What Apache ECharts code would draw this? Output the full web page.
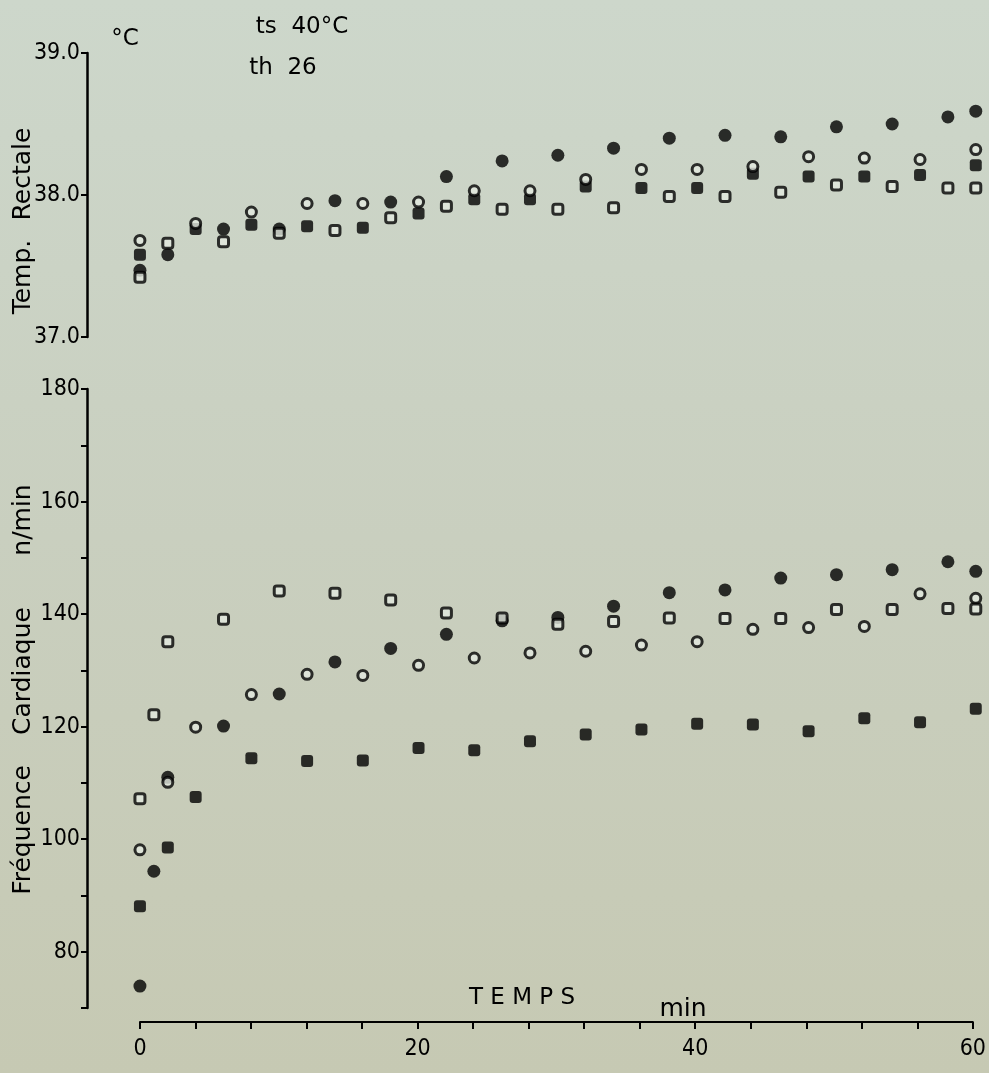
<!DOCTYPE html>
<html>
<head>
<meta charset="utf-8">
<script src="https://cdn.jsdelivr.net/npm/echarts@6.0.0/dist/echarts.min.js"></script>
<style>
	html, body { margin: 0; padding: 0; }
	#chart { width: 989px; height: 1073px; }
</style>
</head>
<body>
<div id="chart"></div>
<script>
// temps (min)
var tempsA = [0, 2, 6, 10, 14, 18, 22, 26, 30, 34, 38, 42, 46, 50, 54, 58, 60];
var tempsB = [0, 4, 8, 12, 16, 20, 24, 28, 32, 36, 40, 44, 48, 52, 56, 60];
var freqTempsA = [0, 1, 2, 6, 10, 14, 18, 22, 26, 30, 34, 38, 42, 46, 50, 54, 58, 60];
var freqTempsB = [0, 2, 4, 8, 12, 16, 20, 24, 28, 32, 36, 40, 44, 48, 52, 56, 60];

// Temp. rectale (°C)
var rectPleinRond = [37.47, 37.58, 37.76, 37.76, 37.96, 37.95, 38.13, 38.24, 38.28, 38.33, 38.40, 38.42, 38.41, 38.48, 38.50, 38.55, 38.59];
var rectVideCarre = [37.42, 37.66, 37.67, 37.73, 37.75, 37.84, 37.92, 37.90, 37.90, 37.91, 37.99, 37.99, 38.02, 38.07, 38.06, 38.05, 38.05];
var rectVideRond = [37.68, 37.80, 37.88, 37.94, 37.94, 37.95, 38.03, 38.03, 38.11, 38.18, 38.18, 38.20, 38.27, 38.26, 38.25, 38.32];
var rectPleinCarre = [37.58, 37.76, 37.79, 37.78, 37.77, 37.87, 37.97, 37.97, 38.06, 38.05, 38.05, 38.15, 38.13, 38.13, 38.14, 38.21];

// Fréquence cardiaque (n/min)
var freqPleinRond = [73.9, 94.3, 111.0, 120.1, 125.8, 131.5, 133.9, 136.4, 138.8, 139.4, 141.4, 143.8, 144.3, 146.4, 147.0, 147.9, 149.3, 147.6];
var freqVideCarre = [107.2, 122.1, 135.1, 139.1, 144.1, 143.7, 142.5, 140.2, 139.3, 138.2, 138.7, 139.3, 139.2, 139.2, 140.8, 140.8, 141.0, 140.9];
var freqVideRond = [98.1, 110.1, 119.9, 125.7, 129.3, 129.1, 130.9, 132.2, 133.1, 133.4, 134.5, 135.1, 137.3, 137.6, 137.8, 143.6, 142.8];
var freqPleinCarre = [88.1, 98.5, 107.5, 114.4, 113.9, 114.0, 116.2, 115.8, 117.4, 118.6, 119.5, 120.5, 120.4, 119.2, 121.5, 120.8, 123.2];

var tempTicks = [37, 38, 39];
var xTickLabels = [0, 20, 40, 60];

var ink = '#000';
var paper = '#e2e8de';
var numFont = "'Liberation Sans Narrow', 'DejaVu Sans Condensed', 'Liberation Sans', sans-serif";
var txtFont = "'DejaVu Sans', sans-serif";

function pairs(times, vals) { //associer temps et valeurs
	var out = [];
	for(var i = 0; i < vals.length; i++) {
		out.push([times[i], vals[i]]);
	}
	return out;
}

function serie(idx, data, kind) {
	var s = {
		type: 'scatter',
		xAxisIndex: idx,
		yAxisIndex: idx,
		data: data,
		silent: true,
		clip: false
	};
	if(kind == 'pleinRond') {
		s.symbol = 'circle'; s.symbolSize = 13; s.z = 2;
		s.itemStyle = { color: ink };
	} else if(kind == 'pleinCarre') {
		s.symbol = 'roundRect'; s.symbolSize = 12; s.z = 2;
		s.itemStyle = { color: ink };
	} else if(kind == 'videRond') {
		s.symbol = 'circle'; s.symbolSize = 10; s.z = 3;
		s.itemStyle = { color: paper, borderColor: ink, borderWidth: 3 };
	} else {
		s.symbol = 'roundRect'; s.symbolSize = 10; s.z = 3;
		s.itemStyle = { color: paper, borderColor: ink, borderWidth: 3 };
	}
	return s;
}

function hiddenX(idx) {
	return { gridIndex: idx, type: 'value', min: -3.8, max: 60.95, show: false };
}

function label(text, x, y, size, rot) {
	return {
		type: 'text',
		x: x,
		y: y,
		rotation: rot || 0,
		silent: true,
		style: {
			text: text,
			font: size + 'px ' + txtFont,
			fill: ink,
			textAlign: 'center',
			textVerticalAlign: 'middle'
		}
	};
}

var chart = echarts.init(document.getElementById('chart'));
var option = {
	animation: false,
	backgroundColor: new echarts.graphic.LinearGradient(0, 0, 0, 1, [
		{ offset: 0, color: '#cdd7cb' },
		{ offset: 0.5, color: '#c9cfbf' },
		{ offset: 1, color: '#c6c9b3' }
	]),
	grid: [
		{ left: 87, right: 0, top: 53, height: 284 },
		{ left: 87, right: 0, top: 389, height: 619 },
		{ left: 140, width: 833, top: 1021, height: 1 }
	],
	xAxis: [
		hiddenX(0),
		hiddenX(1),
		{
			gridIndex: 2, type: 'value', min: 0, max: 60, interval: 4,
			axisLine: { lineStyle: { color: ink, width: 2 } },
			axisTick: { length: 7, lineStyle: { color: ink, width: 2 } },
			splitLine: { show: false },
			axisLabel: {
				margin: 16, color: ink, fontSize: 23, fontFamily: numFont,
				formatter: function(v) { return xTickLabels.indexOf(v) >= 0 ? String(v) : ''; }
			}
		}
	],
	yAxis: [
		{
			gridIndex: 0, type: 'value', min: tempTicks[0], max: tempTicks[2], interval: 1,
			axisLine: { show: true, onZero: false, lineStyle: { color: ink, width: 2.5 } },
			axisTick: { show: true, length: 6, lineStyle: { color: ink, width: 2 } },
			splitLine: { show: false },
			axisLabel: {
				margin: 7, color: ink, fontSize: 23, fontFamily: numFont,
				formatter: function(v) { return v.toFixed(1); }
			}
		},
		{
			gridIndex: 1, type: 'value', min: 70, max: 180, interval: 10,
			axisLine: { show: true, onZero: false, lineStyle: { color: ink, width: 2.5 } },
			axisTick: { show: true, length: 6, lineStyle: { color: ink, width: 2 } },
			splitLine: { show: false },
			axisLabel: {
				margin: 7, color: ink, fontSize: 23, fontFamily: numFont,
				formatter: function(v) { return v % 20 == 0 ? String(v) : ''; }
			}
		},
		{ gridIndex: 2, type: 'value', show: false }
	],
	graphic: [
		label('°C', 125, 39, 23),
		label('ts  40°C', 302, 27, 23),
		label('th  26', 283, 68, 23),
		label('Temp.', 23, 277, 25, Math.PI / 2),
		label('Rectale', 23, 174, 25, Math.PI / 2),
		label('n/min', 23, 520, 25, Math.PI / 2),
		label('Cardiaque', 23, 671, 25, Math.PI / 2),
		label('Fréquence', 23, 830, 25, Math.PI / 2),
		label('T E M P S', 522, 998, 23),
		label('min', 683, 1009, 25)
	],
	series: [
		serie(0, pairs(tempsA, rectPleinRond), 'pleinRond'),
		serie(0, pairs(tempsB, rectPleinCarre), 'pleinCarre'),
		serie(0, pairs(tempsB, rectVideRond), 'videRond'),
		serie(0, pairs(tempsA, rectVideCarre), 'videCarre'),
		serie(1, pairs(freqTempsA, freqPleinRond), 'pleinRond'),
		serie(1, pairs(freqTempsB, freqPleinCarre), 'pleinCarre'),
		serie(1, pairs(freqTempsB, freqVideRond), 'videRond'),
		serie(1, pairs(freqTempsA, freqVideCarre), 'videCarre')
	]
};
chart.setOption(option);
</script>
</body>
</html>
